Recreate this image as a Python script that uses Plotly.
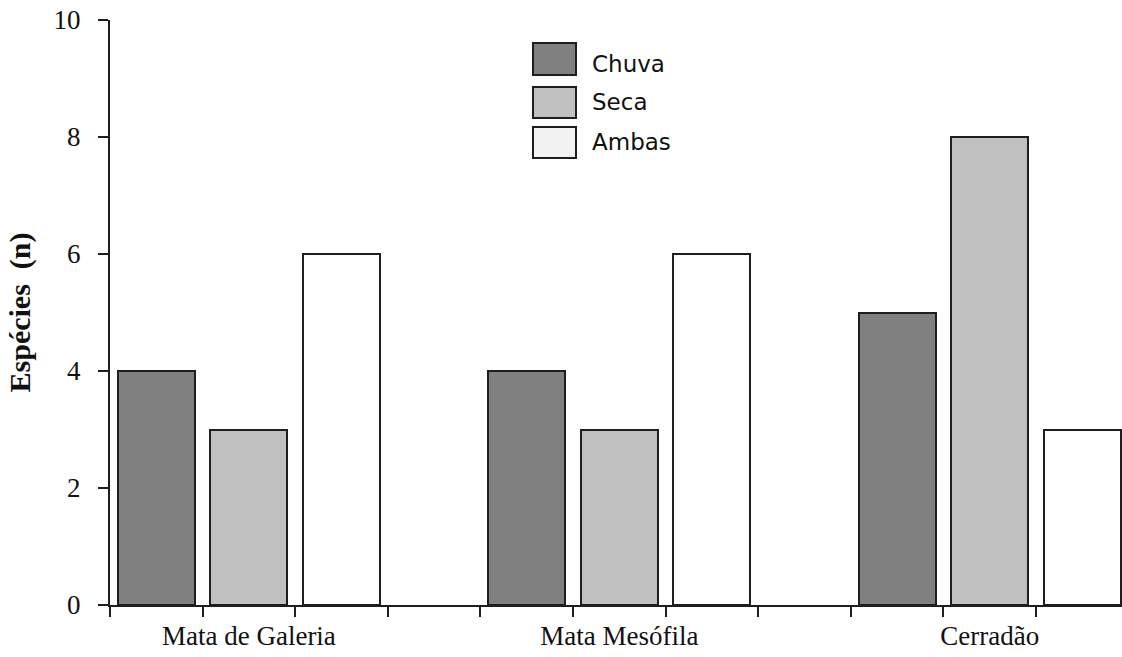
import numpy as np
import plotly.graph_objects as go

# Data
habitats = ["Mata de Galeria", "Mata Mesófila", "Cerradão"]
series_names = ["Chuva", "Seca", "Ambas"]
chuva = [4, 4, 5]
seca = [3, 3, 8]
ambas = [6, 6, 3]
y_ticks = [0, 2, 4, 6, 8, 10]

series_values = [chuva, seca, ambas]
fill_colors = ["#808080", "#c0c0c0", "#ffffff"]
legend_colors = ["#808080", "#c0c0c0", "#f2f2f2"]
edge = "#1e1e1e"

# Each habitat occupies four slots: three bars plus an empty spacer slot
slots_per_group = len(series_names) + 1
n_slots = slots_per_group * len(habitats) - 1

W, H = 1122, 657
M_L, M_R, M_T, M_B = 110, 0, 20, 52
slot_px = 92.6
plot_w = W - M_L - M_R
x_lo = -0.5
x_hi = x_lo + plot_w / slot_px

fig = go.Figure()
for s, (name, vals) in enumerate(zip(series_names, series_values)):
    xs = [g * slots_per_group + s for g in range(len(habitats))]
    fig.add_trace(go.Bar(
        x=xs, y=vals, name=name, width=0.83,
        marker=dict(color=fill_colors[s], line=dict(color=edge, width=2)),
        showlegend=False,
    ))

label_pos = [g * slots_per_group + 1 for g in range(len(habitats))]
boundaries = list(np.arange(-0.5, n_slots + 0.5, 1.0))

serif = "Liberation Serif, Times New Roman, serif"
fig.update_layout(
    width=W, height=H, autosize=False,
    margin=dict(l=M_L, r=M_R, t=M_T, b=M_B, pad=0),
    plot_bgcolor="white", paper_bgcolor="white",
    bargap=0,
    xaxis=dict(
        range=[x_lo, x_hi], automargin=False,
        tickmode="array", tickvals=label_pos, ticktext=habitats,
        ticks="", showgrid=False, zeroline=False,
        showline=True, linecolor=edge, linewidth=2,
        tickfont=dict(family=serif, size=27, color="#111"),
        ticklabelstandoff=6,
        minor=dict(tickmode="array", tickvals=boundaries, ticks="outside",
                   ticklen=10, tickwidth=2, tickcolor=edge, showgrid=False),
    ),
    yaxis=dict(
        range=[0, 10], tickmode="array", tickvals=y_ticks, automargin=False,
        ticks="outside", ticklen=10, tickwidth=2, tickcolor=edge,
        showgrid=False, zeroline=False,
        showline=True, linecolor=edge, linewidth=2,
        tickfont=dict(family=serif, size=27, color="#111"),
        ticklabelstandoff=12,
        title=dict(text="<b>Espécies  (n)</b>", standoff=14,
                   font=dict(family=serif, size=30, color="#111")),
    ),
)

# Legend drawn as boxes with labels placed in pixel space
plot_h = H - M_T - M_B


def px_x(px):
    return (px - M_L) / plot_w


def px_y(py):
    return 1 - (py - M_T) / plot_h


box_rows = [(43, 75), (87, 118), (127, 158)]
text_centres = [64, 102, 142]
for (top, bot), tc, name, col in zip(box_rows, text_centres, series_names, legend_colors):
    fig.add_shape(type="rect", xref="paper", yref="paper",
                  x0=px_x(533), x1=px_x(576), y0=px_y(bot), y1=px_y(top),
                  fillcolor=col, line=dict(color=edge, width=2))
    fig.add_annotation(xref="paper", yref="paper", x=px_x(590), y=px_y(tc),
                       text=name, showarrow=False, xanchor="left", yanchor="middle",
                       font=dict(family="DejaVu Sans, sans-serif", size=23, color="#111"))

fig.write_html("out.html")
